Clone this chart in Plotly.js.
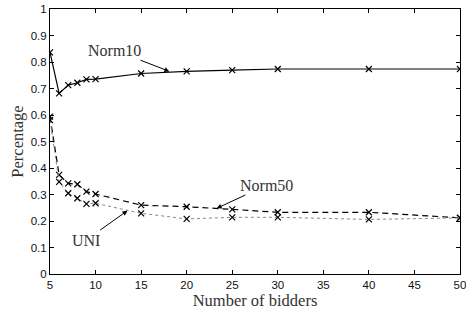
<!DOCTYPE html>
<html><head><meta charset="utf-8">
<script src="https://cdn.plot.ly/plotly-3.0.1.min.js"></script>
<style>body{margin:0;background:#fff}#c{width:466px;height:310px}</style>
</head><body><div id="c"></div>
<script>
var bidders = [5, 6, 7, 8, 9, 10, 15, 20, 25, 30, 40, 50];
var norm10 = [0.837, 0.682, 0.713, 0.722, 0.735, 0.736, 0.757, 0.765, 0.770, 0.774, 0.774, 0.774];
var norm50 = [0.594, 0.374, 0.342, 0.339, 0.311, 0.302, 0.260, 0.254, 0.244, 0.233, 0.233, 0.212];
var uni    = [0.581, 0.348, 0.305, 0.286, 0.265, 0.267, 0.229, 0.208, 0.214, 0.214, 0.206, 0.212];
var yTicks = [0, 0.1, 0.2, 0.3, 0.4, 0.5, 0.6, 0.7, 0.8, 0.9, 1];
var yTickText = ['0', '0.1', '0.2', '0.3', '0.4', '0.5', '0.6', '0.7', '0.8', '0.9', '1'];
var xTicks = [5, 10, 15, 20, 25, 30, 35, 40, 45, 50];

var mk = {symbol: 'x-thin', size: 6, color: '#000', line: {width: 1.2, color: '#000'}};
var traces = [
  {x: bidders, y: norm10, mode: 'lines+markers', line: {color: '#000', width: 1.2, dash: 'solid'}, marker: mk, name: 'Norm10'},
  {x: bidders, y: norm50, mode: 'lines+markers', line: {color: '#000', width: 1.2, dash: '6px,4px'}, marker: mk, name: 'Norm50'},
  {x: bidders, y: uni, mode: 'lines+markers', line: {color: '#888', width: 1, dash: 'dot'}, marker: mk, name: 'UNI'}
];
var serif = {family: 'Liberation Serif', size: 16, color: '#333'};
var serifT = {family: 'Liberation Serif', size: 16.5, color: '#333'};
var ann = function(t, x, y, ax, ay) {
  return {text: t, x: x, y: y, ax: ax, ay: ay, xref: 'x', yref: 'y', axref: 'x', ayref: 'y',
    showarrow: true, arrowhead: 2, arrowsize: 1, arrowwidth: 1, arrowcolor: '#000', font: serif};
};
var layout = {
  width: 466, height: 310,
  margin: {l: 50, r: 6, t: 9, b: 36},
  paper_bgcolor: '#fff', plot_bgcolor: '#fff',
  showlegend: false,
  font: {family: 'Liberation Sans', size: 11.5, color: '#111'},
  xaxis: {range: [4.999, 50.001], tickvals: xTicks, ticks: 'inside', ticklen: 4, tickcolor: '#000',
    ticklabeloverflow: 'allow',
    showline: true, linecolor: '#000', linewidth: 1, mirror: 'ticks', showgrid: false, zeroline: false,
    title: {text: 'Number of bidders', font: serifT, standoff: 0}},
  yaxis: {range: [0, 1.0005], tickvals: yTicks, ticktext: yTickText, ticks: 'inside', ticklen: 4, tickcolor: '#000',
    showline: true, linecolor: '#000', linewidth: 1, mirror: 'ticks', showgrid: false, zeroline: false,
    title: {text: 'Percentage', font: serifT, standoff: 2}},
  annotations: [
    ann('Norm10', 18.1, 0.765, 12.1, 0.845),
    ann('Norm50', 23.3, 0.248, 28.8, 0.336),
    ann('UNI', 13.5, 0.239, 8.95, 0.128)
  ]
};
Plotly.newPlot('c', traces, layout, {displayModeBar: false, staticPlot: true});
</script></body></html>
